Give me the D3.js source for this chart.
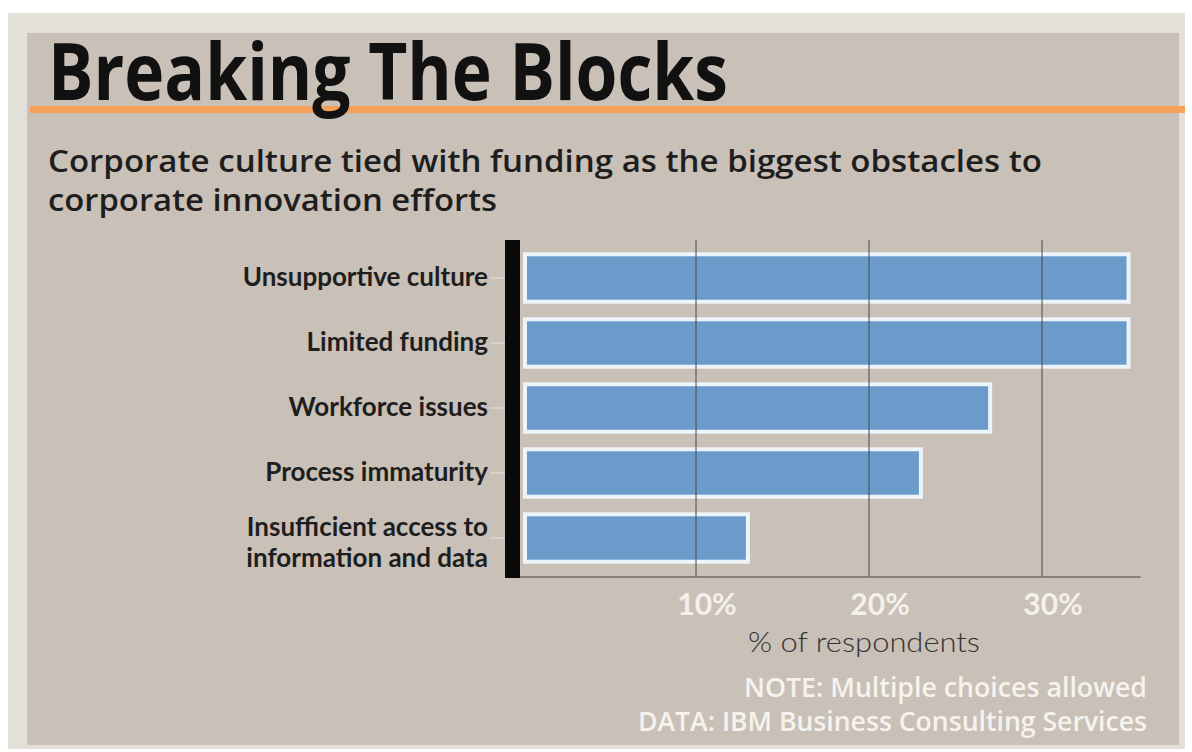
<!DOCTYPE html>
<html>
<head>
<meta charset="utf-8">
<script src="https://cdn.jsdelivr.net/npm/d3@7"></script>
<style>
  body { margin: 0; background: #fff; }
  svg { display: block; }
</style>
</head>
<body>
<svg id="chart" width="1192" height="752"></svg>
<script>
const categories = [
  ['Unsupportive culture'],
  ['Limited funding'],
  ['Workforce issues'],
  ['Process immaturity'],
  ['Insufficient access to', 'information and data']
];
const values = [35, 35, 27, 23, 13];
const tickValues = [10, 20, 30];
const tickLabels = ['10%', '20%', '30%'];

const title = 'Breaking The Blocks';
const subtitle = ['Corporate culture tied with funding as the biggest obstacles to',
                  'corporate innovation efforts'];
const axisTitle = '% of respondents';
const notes = ['NOTE: Multiple choices allowed', 'DATA: IBM Business Consulting Services'];

var svg = d3.select('#chart');

// frame and panel
svg.append('rect').attr('x', 8).attr('y', 13).attr('width', 1177).attr('height', 736).attr('fill', '#e3dfd9');
svg.append('rect').attr('x', 27).attr('y', 33).attr('width', 1152).attr('height', 712).attr('fill', '#c9c0b7');

// title + orange rule
svg.append('rect').attr('x', 30).attr('y', 106).attr('width', 1155).attr('height', 7).attr('fill', '#f7a05a');
svg.append('text')
    .attr('x', 48).attr('y', 100)
    .attr('textLength', 680).attr('lengthAdjust', 'spacingAndGlyphs')
    .style('font-family', '"Open Sans", sans-serif')
    .style('font-weight', 700)
    .style('font-size', '78px')
    .style('fill', '#111')
    .text(title);

svg.selectAll('text.sub').data(subtitle).enter().append('text')
    .attr('class', 'sub')
    .attr('x', 48)
    .attr('y', function (d, i) { return 172 + i * 39; })
    .attr('textLength', function (d, i) { return i == 0 ? 994 : 449; })
    .attr('lengthAdjust', 'spacingAndGlyphs')
    .style('font-family', '"Open Sans", sans-serif')
    .style('font-weight', 600)
    .style('font-size', '31px')
    .style('fill', '#1e1e1e')
    .text(function (d) { return d; });

// scales
var xs = d3.scaleLinear().domain([0, 36.5]).range([523, 1154.5]);
var ys = d3.scaleBand().domain(d3.range(values.length)).range([245.5, 570.5]).paddingInner(0.27).paddingOuter(0.135);
var plotTop = 240, plotBottom = 577;

// bars
svg.append('g').selectAll('rect').data(values).enter().append('rect')
    .attr('x', xs(0) + 2)
    .attr('y', function (d, i) { return ys(i); })
    .attr('width', function (d) { return xs(d) - xs(0) - 2; })
    .attr('height', ys.bandwidth())
    .attr('fill', '#6b9bcb')
    .attr('stroke', '#eef5fa')
    .attr('stroke-width', 4);

// gridlines over the bars
svg.append('g').selectAll('line').data(tickValues).enter().append('line')
    .attr('x1', function (d) { return xs(d); })
    .attr('x2', function (d) { return xs(d); })
    .attr('y1', plotTop).attr('y2', plotBottom)
    .attr('stroke', '#4b4b4b')
    .attr('stroke-width', 1.2)
    .attr('opacity', 0.85);

// baseline
svg.append('line')
    .attr('x1', 505).attr('x2', xs(35.7))
    .attr('y1', plotBottom).attr('y2', plotBottom)
    .attr('stroke', '#6f6a66').attr('stroke-width', 1.5);

// thick black axis bar
svg.append('rect').attr('x', 505).attr('y', plotTop).attr('width', 15).attr('height', plotBottom - plotTop + 1).attr('fill', '#0a0a0a');

// category ticks + labels
var labels = svg.append('g');
labels.selectAll('line').data(values).enter().append('line')
    .attr('x1', 490).attr('x2', 505)
    .attr('y1', function (d, i) { return ys(i) + ys.bandwidth() / 2; })
    .attr('y2', function (d, i) { return ys(i) + ys.bandwidth() / 2; })
    .attr('stroke', '#e6e2dc').attr('stroke-width', 1);

labels.selectAll('text').data(categories).enter().append('text')
    .attr('x', 488)
    .attr('y', function (d, i) { return ys(i) + ys.bandwidth() / 2 + (d.length > 1 ? -2 : 8); })
    .attr('text-anchor', 'end')
    .style('font-family', 'Lato, sans-serif')
    .style('font-weight', 700)
    .style('font-size', '26px')
    .style('fill', '#1e1e1e')
    .each(function (d) {
        var t = d3.select(this);
        d.forEach(function (line, j) {
            t.append('tspan').attr('x', 488).attr('dy', j == 0 ? 0 : 31).text(line);
        });
    });

// x tick labels
svg.append('g').selectAll('text').data(tickValues).enter().append('text')
    .attr('x', function (d) { return xs(d) + 11; })
    .attr('y', 615)
    .attr('text-anchor', 'middle')
    .style('font-family', 'Lato, sans-serif')
    .style('font-weight', 700)
    .style('font-size', '30px')
    .style('fill', '#f4f1ec')
    .text(function (d, i) { return tickLabels[i]; });

svg.append('text')
    .attr('x', 748).attr('y', 652)
    .attr('textLength', 232).attr('lengthAdjust', 'spacingAndGlyphs')
    .style('font-family', 'Lato, sans-serif')
    .style('font-weight', 300)
    .style('font-size', '28px')
    .style('fill', '#333')
    .text(axisTitle);

svg.selectAll('text.note').data(notes).enter().append('text')
    .attr('class', 'note')
    .attr('x', 1147)
    .attr('y', function (d, i) { return 697 + i * 34; })
    .attr('text-anchor', 'end')
    .attr('textLength', function (d, i) { return i == 0 ? 403 : 509; })
    .attr('lengthAdjust', 'spacingAndGlyphs')
    .style('font-family', '"Open Sans", sans-serif')
    .style('font-weight', 600)
    .style('font-size', '27px')
    .style('fill', '#f6f3ef')
    .text(function (d) { return d; });
</script>
</body>
</html>
